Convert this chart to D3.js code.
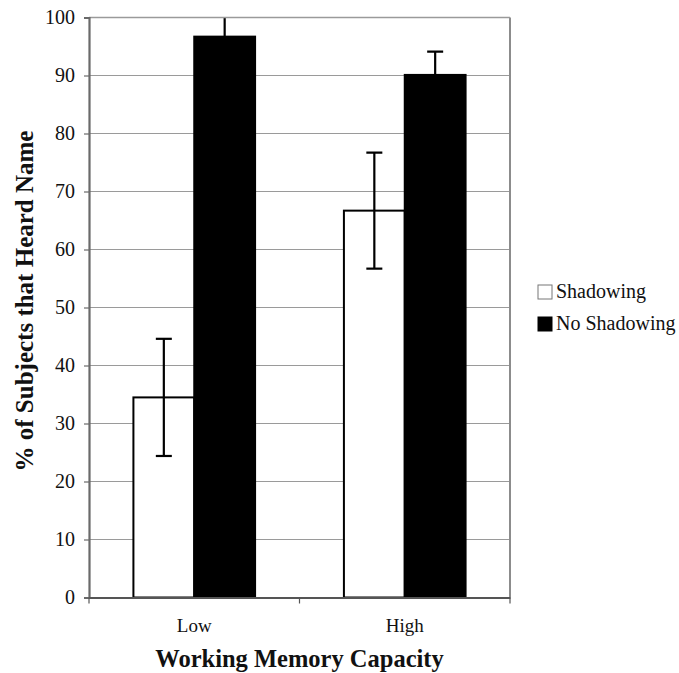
<!DOCTYPE html>
<html>
<head>
<meta charset="utf-8">
<script src="https://cdn.jsdelivr.net/npm/d3@7"></script>
<style>
  body { margin: 0; background: #fff; }
  svg text { fill: #111; }
</style>
</head>
<body>
<svg id="chart" width="679" height="673"></svg>
<script>
// chart data
var categories = ["Low", "High"];
var seriesNames = ["Shadowing", "No Shadowing"];
var shadowing = [34.5, 66.7];
var noShadowing = [96.7, 90.1];
var shadowingErr = [10.1, 10.0];
var noShadowingErr = [4.0, 4.0];
var yTicks = [0, 10, 20, 30, 40, 50, 60, 70, 80, 90, 100];

var serif = "'Liberation Serif', 'Times New Roman', serif";

var svg = d3.select("#chart").attr("font-family", serif);
var margin = {left: 89, top: 17.5},
    width = 421, height = 580;

var g = svg.append("g").attr("transform", "translate(" + margin.left + "," + margin.top + ")");

var x0 = d3.scaleBand().domain(categories).range([0, width]).paddingInner(0).paddingOuter(0);
var x1 = d3.scaleBand().domain(seriesNames).range([x0.bandwidth() * 0.211, x0.bandwidth() * 0.789]);
var y = d3.scaleLinear().domain([0, 100]).range([height, 0]);

var colors = {"Shadowing": "#fff", "No Shadowing": "#000"};

g.append("defs").append("clipPath").attr("id", "plotclip")
    .append("rect").attr("x", -2).attr("y", 0).attr("width", width + 4).attr("height", height);

// grid
g.selectAll(".grid")
    .data(yTicks.slice(1))
    .enter().append("line")
    .attr("class", "grid")
    .attr("x1", 0).attr("x2", width)
    .attr("y1", function(d){ return y(d); })
    .attr("y2", function(d){ return y(d); })
    .attr("stroke", "#9a9a9a").attr("stroke-width", 1.2);

// right border
g.append("line").attr("x1", width).attr("x2", width).attr("y1", 0).attr("y2", height)
    .attr("stroke", "#8c8c8c").attr("stroke-width", 2);

var rows = [];
categories.forEach(function(c, i){
    rows.push({cat: c, series: "Shadowing", value: shadowing[i], err: shadowingErr[i]});
    rows.push({cat: c, series: "No Shadowing", value: noShadowing[i], err: noShadowingErr[i]});
});

var bars = g.append("g").attr("clip-path", "url(#plotclip)");

bars.selectAll(".bar")
    .data(rows)
    .enter().append("rect")
    .attr("class", "bar")
    .attr("x", function(d){ return x0(d.cat) + x1(d.series); })
    .attr("y", function(d){ return y(d.value); })
    .attr("width", x1.bandwidth())
    .attr("height", function(d){ return height - y(d.value); })
    .attr("fill", function(d){ return colors[d.series]; })
    .attr("stroke", "#000").attr("stroke-width", 2);

// error bars
var eb = bars.selectAll(".err").data(rows).enter().append("g").attr("class", "err");
eb.append("line")
    .attr("x1", function(d){ return x0(d.cat) + x1(d.series) + x1.bandwidth() / 2; })
    .attr("x2", function(d){ return x0(d.cat) + x1(d.series) + x1.bandwidth() / 2; })
    .attr("y1", function(d){ return y(d.value - d.err); })
    .attr("y2", function(d){ return y(d.value + d.err); })
    .attr("stroke", "#000").attr("stroke-width", 2.2);
[-1, 1].forEach(function(s){
    eb.append("line")
        .attr("x1", function(d){ return x0(d.cat) + x1(d.series) + x1.bandwidth() / 2 - 8; })
        .attr("x2", function(d){ return x0(d.cat) + x1(d.series) + x1.bandwidth() / 2 + 8; })
        .attr("y1", function(d){ return y(d.value + s * d.err); })
        .attr("y2", function(d){ return y(d.value + s * d.err); })
        .attr("stroke", "#000").attr("stroke-width", 2.2);
});

// top border
g.append("line").attr("x1", 0).attr("x2", width).attr("y1", 0).attr("y2", 0)
    .attr("stroke", "#9a9a9a").attr("stroke-width", 1.5);

// y axis
var yAxis = g.append("g")
    .call(d3.axisLeft(y).tickValues(yTicks).tickSize(5).tickPadding(9));
yAxis.attr("font-family", serif);
yAxis.select(".domain").attr("stroke", "#6a6a6a").attr("stroke-width", 2.2);
yAxis.selectAll(".tick line").attr("stroke", "#6a6a6a").attr("stroke-width", 1.2);
yAxis.selectAll(".tick text").style("font-size", "20px").style("font-family", serif).attr("fill", "#111");

// x axis
var xAxis = g.append("g").attr("transform", "translate(0," + height + ")")
    .call(d3.axisBottom(x0).tickSize(0).tickPadding(21));
xAxis.attr("font-family", serif);
xAxis.select(".domain").attr("stroke", "#555").attr("stroke-width", 2.2);
xAxis.selectAll(".tick text").style("font-size", "19px").style("font-family", serif).attr("fill", "#111");
g.selectAll(".xtick")
    .data([0, width / 2, width])
    .enter().append("line")
    .attr("x1", function(d){ return d; }).attr("x2", function(d){ return d; })
    .attr("y1", height).attr("y2", height + 6)
    .attr("stroke", "#555").attr("stroke-width", 1.2);

// axis titles
svg.append("text")
    .attr("x", margin.left + width / 2).attr("y", 667)
    .attr("text-anchor", "middle")
    .style("font-size", "24.5px").style("font-weight", "bold").style("font-family", serif)
    .text("Working Memory Capacity");

svg.append("text")
    .attr("transform", "translate(33,301) rotate(-90)")
    .attr("text-anchor", "middle")
    .style("font-size", "25px").style("font-weight", "bold").style("font-family", serif)
    .text("% of Subjects that Heard Name");

// legend
var legend = svg.append("g").attr("transform", "translate(538,285)");
var li = legend.selectAll(".li").data(seriesNames).enter().append("g")
    .attr("transform", function(d, i){ return "translate(0," + (i * 32) + ")"; });
li.append("rect")
    .attr("width", 14).attr("height", 14)
    .attr("fill", function(d){ return colors[d]; })
    .attr("stroke", function(d, i){ return i ? "#000" : "#777"; }).attr("stroke-width", 1);
li.append("text")
    .attr("x", 18).attr("y", 13)
    .style("font-size", "20px").style("font-family", serif)
    .text(function(d){ return d; });
</script>
</body>
</html>
